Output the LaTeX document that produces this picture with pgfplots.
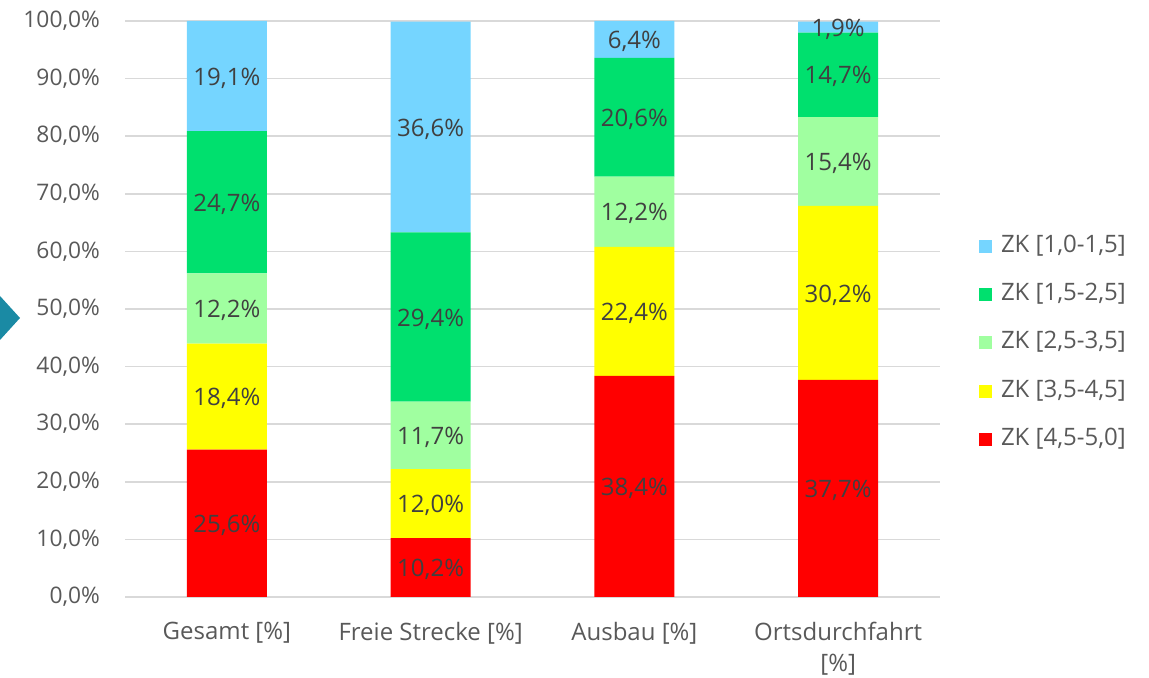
\documentclass[border=0pt]{standalone}
\usepackage{pgfplots}
\pgfplotsset{compat=1.18}
\usepackage{fontspec}
\setmainfont{Open Sans}
\definecolor{cRed}{HTML}{FF0000}
\definecolor{cYel}{HTML}{FFFF00}
\definecolor{cLGr}{HTML}{A0FFA0}
\definecolor{cGr}{HTML}{00E06E}
\definecolor{cBlu}{HTML}{75D5FF}
\definecolor{cGrid}{HTML}{D9D9D9}
\definecolor{cTxt}{HTML}{595959}
\definecolor{cLab}{HTML}{404040}
\definecolor{cArr}{HTML}{1A8AA4}
\begin{document}
\begin{tikzpicture}
\useasboundingbox (0,0) rectangle (574.5pt,339pt);
\fill[cArr] (0pt,169pt) -- (10pt,180pt) -- (0pt,191pt) -- cycle;
\begin{axis}[
  at={(62.5pt,40.5pt)}, anchor=south west,
  scale only axis, width=407.5pt, height=288pt,
  ybar stacked, bar width=40pt,
  xmin=-0.5, xmax=3.5, ymin=0, ymax=100,
  /pgf/number format/assume math mode=true,
  xtick={0,1,2,3},
  xticklabels={{Gesamt [\%]},{Freie Strecke [\%]},{Ausbau [\%]},{Ortsdurchfahrt\\{[\%]}}},
  xticklabel style={align=center, yshift=-9pt},
  ytick={0,10,...,100},
  yticklabels={{0,0\%},{10,0\%},{20,0\%},{30,0\%},{40,0\%},{50,0\%},{60,0\%},{70,0\%},{80,0\%},{90,0\%},{100,0\%}},
  yticklabel style={xshift=-9pt, font=\fontsize{11.4}{15.5}\selectfont},
  ymajorgrids, major grid style={cGrid, line width=0.75pt},
  axis line style={draw=none},
  major tick length=0pt,
  tick label style={font=\fontsize{12}{15.5}\selectfont, text=cTxt},
  visualization depends on={rawy \as \rawy},
  nodes near coords={\pgfmathprintnumber[fixed,fixed zerofill,precision=1,use comma]{\rawy}\%},
  every node near coord/.append style={anchor=center, yshift=-1pt, font=\fontsize{12}{14}\selectfont, text=cLab},
  legend style={at={(1.040,0.441)}, anchor=west, draw=none, fill=none,
    font=\fontsize{12}{14}\selectfont, text=cTxt, row sep=13.2pt,
    /tikz/every odd column/.append style={column sep=4.5pt},
    nodes={inner sep=0pt, text height=8.5pt, text depth=2.5pt}},
  legend image code/.code={\fill[#1] (0pt,-3.25pt) rectangle (6.5pt,3.25pt);},
  legend cell align=left,
  reverse legend,
]
\addplot[fill=cRed, draw=none] coordinates {(0,25.6) (1,10.2) (2,38.4) (3,37.7)};
\addplot[fill=cYel, draw=none] coordinates {(0,18.4) (1,12.0) (2,22.4) (3,30.2)};
\addplot[fill=cLGr, draw=none] coordinates {(0,12.2) (1,11.7) (2,12.2) (3,15.4)};
\addplot[fill=cGr, draw=none] coordinates {(0,24.7) (1,29.4) (2,20.6) (3,14.7)};
\addplot[fill=cBlu, draw=none] coordinates {(0,19.1) (1,36.6) (2,6.4) (3,1.9)};
\legend{{ZK [4,5-5,0]},{ZK [3,5-4,5]},{ZK [2,5-3,5]},{ZK [1,5-2,5]},{ZK [1,0-1,5]}}
\end{axis}
\end{tikzpicture}
\end{document}
